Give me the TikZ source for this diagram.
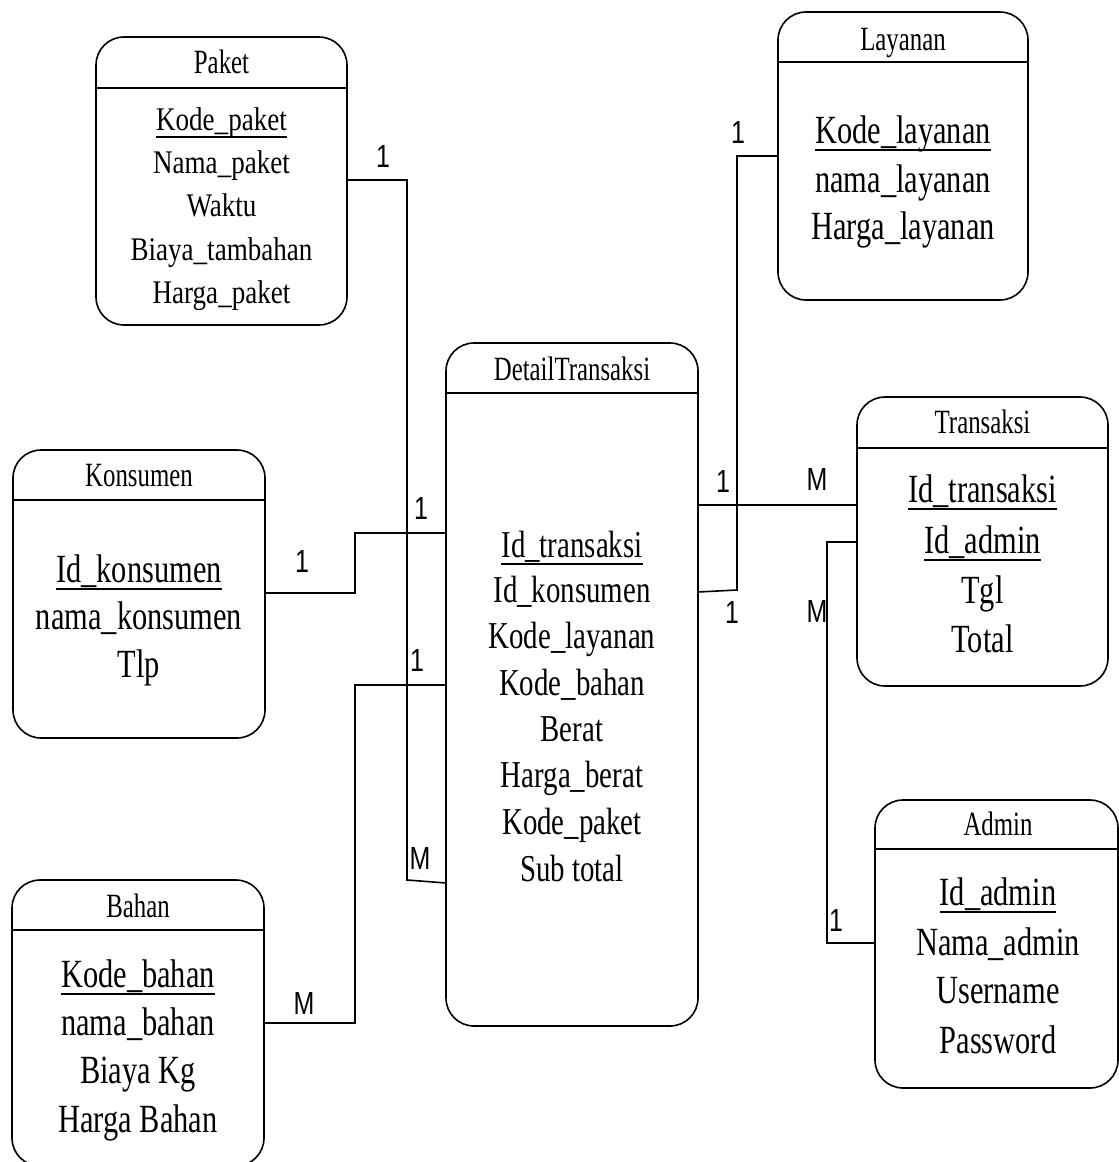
\documentclass[tikz,border=0pt]{standalone}
\usepackage{fontspec}
\setmainfont{Liberation Serif}
\newfontfamily\ttlfont{Liberation Serif}[FakeStretch=0.73]
\newfontfamily\atfont{Liberation Serif}[FakeStretch=0.76]
\newfontfamily\pkfont{Liberation Serif}[FakeStretch=0.82]
\newfontfamily\lbfont{Liberation Sans}[FakeStretch=0.78]
\begin{document}
\begin{tikzpicture}[x=1pt,y=-1pt,
  entity/.style={draw=black, line width=1.6pt, rounded corners=28pt, anchor=north west, inner sep=0pt, outer sep=0pt, fill=white},
  hdr/.style={line width=2.6pt},
  conn/.style={line width=1.6pt},
  ttl/.style={anchor=base, inner sep=0pt, font=\ttlfont\fontsize{34}{40}\selectfont},
  att/.style={anchor=base, inner sep=0pt, font=\atfont\fontsize{40}{48}\selectfont},
  patt/.style={anchor=base, inner sep=0pt, font=\pkfont\fontsize{33}{40}\selectfont},
  datt/.style={anchor=base, inner sep=0pt, font=\atfont\fontsize{38}{46}\selectfont},
  card/.style={inner sep=0pt, font=\lbfont\fontsize{32}{38}\selectfont},
  ulin/.style={line width=1.5pt}]
\useasboundingbox[fill=white] (0,0) rectangle (1119,1162);

% ---------- connector bends ----------
\coordinate (pk) at (407,880);
\coordinate (ks) at (355,533);
\coordinate (bh) at (355,685);
\coordinate (ly) at (737,590);
\coordinate (ad) at (827,943);

% ---------- entities ----------
\node[entity, minimum width=251pt, minimum height=288pt] (paket) at (96,37) {};
\node[entity, minimum width=250pt, minimum height=288pt] (layanan) at (778,12) {};
\node[entity, minimum width=252pt, minimum height=288pt] (konsumen) at (13,450) {};
\node[entity, minimum width=252pt, minimum height=683pt] (detail) at (446,343) {};
\node[entity, minimum width=251pt, minimum height=289pt] (transaksi) at (857,397) {};
\node[entity, minimum width=243pt, minimum height=288pt] (admin) at (875,800) {};
\node[entity, minimum width=252pt, minimum height=286pt] (bahan) at (12,880) {};

\draw[hdr] (paket.west |- 0,88) -- (paket.east |- 0,88);
\draw[hdr] (layanan.west |- 0,62) -- (layanan.east |- 0,62);
\draw[hdr] (konsumen.west |- 0,500) -- (konsumen.east |- 0,500);
\draw[hdr] (detail.west |- 0,393) -- (detail.east |- 0,393);
\draw[hdr] (transaksi.west |- 0,448) -- (transaksi.east |- 0,448);
\draw[hdr] (admin.west |- 0,849) -- (admin.east |- 0,849);
\draw[hdr] (bahan.west |- 0,930) -- (bahan.east |- 0,930);

\draw[conn] (paket.east |- 0,180) -| (pk) -- (detail.west |- 0,883);
\draw[conn] (konsumen.east |- 0,593) -| (ks) -- (detail.west |- 0,533);
\draw[conn] (bahan.east |- 0,1023) -| (bh) -- (detail.west |- 0,685);
\draw[conn] (layanan.west |- 0,156) -| (ly) -- (detail.east |- 0,592);
\draw[conn] (detail.east |- 0,505) -- (transaksi.west |- 0,505);
\draw[conn] (transaksi.west |- 0,542) -| (ad) -- (admin.west |- 0,943);

% ---------- Paket ----------
\node[ttl] (tpaket) at (221.5,73) {Paket};
\node[patt] (p1) at (221.5,130) {Kode\_paket};
\node[patt] (p2) at (221.5,173) {Nama\_paket};
\node[patt] (p3) at (221.5,216) {Waktu};
\node[patt] (p4) at (221.5,260) {Biaya\_tambahan};
\node[patt] (p5) at (221.5,303) {Harga\_paket};
\draw[ulin] ([yshift=-7pt]p1.base west) -- ([yshift=-7pt]p1.base east);

% ---------- Layanan ----------
\node[ttl] (tlayanan) at (903,50) {Layanan};
\node[att] (l1) at (903,143) {Kode\_layanan};
\node[att] (l2) at (903,192) {nama\_layanan};
\node[att] (l3) at (903,239) {Harga\_layanan};
\draw[ulin] ([yshift=-7pt]l1.base west) -- ([yshift=-7pt]l1.base east);

% ---------- Konsumen ----------
\node[ttl] (tkonsumen) at (139,486) {Konsumen};
\node[att] (k1) at (139,582) {Id\_konsumen};
\node[att] (k2) at (139,629) {nama\_konsumen};
\node[att] (k3) at (139,677) {Tlp};
\draw[ulin] ([yshift=-7pt]k1.base west) -- ([yshift=-7pt]k1.base east);

% ---------- DetailTransaksi ----------
\node[ttl] (tdetail) at (572,380) {DetailTransaksi};
\node[datt] (d1) at (572,557) {Id\_transaksi};
\node[datt] (d2) at (572,602) {Id\_konsumen};
\node[datt] (d3) at (572,648) {Kode\_layanan};
\node[datt] (d4) at (572,695) {Kode\_bahan};
\node[datt] (d5) at (572,741) {Berat};
\node[datt] (d6) at (572,787) {Harga\_berat};
\node[datt] (d7) at (572,834) {Kode\_paket};
\node[datt] (d8) at (572,881) {Sub total};
\draw[ulin] ([yshift=-7pt]d1.base west) -- ([yshift=-7pt]d1.base east);

% ---------- Transaksi ----------
\node[ttl] (ttransaksi) at (982.5,433) {Transaksi};
\node[att] (t1) at (982.5,502) {Id\_transaksi};
\node[att] (t2) at (982.5,553) {Id\_admin};
\node[att] (t3) at (982.5,603) {Tgl};
\node[att] (t4) at (982.5,652) {Total};
\draw[ulin] ([yshift=-7pt]t1.base west) -- ([yshift=-7pt]t1.base east);
\draw[ulin] ([yshift=-7pt]t2.base west) -- ([yshift=-7pt]t2.base east);

% ---------- Admin ----------
\node[ttl] (tadmin) at (998,835) {Admin};
\node[att] (a1) at (998,905) {Id\_admin};
\node[att] (a2) at (998,955) {Nama\_admin};
\node[att] (a3) at (998,1003) {Username};
\node[att] (a4) at (998,1053) {Password};
\draw[ulin] ([yshift=-7pt]a1.base west) -- ([yshift=-7pt]a1.base east);

% ---------- Bahan ----------
\node[ttl] (tbahan) at (138,917) {Bahan};
\node[att] (b1) at (138,987) {Kode\_bahan};
\node[att] (b2) at (138,1035) {nama\_bahan};
\node[att] (b3) at (138,1083) {Biaya Kg};
\node[att] (b4) at (138,1132) {Harga Bahan};
\draw[ulin] ([yshift=-7pt]b1.base west) -- ([yshift=-7pt]b1.base east);

% ---------- cardinalities ----------
\node[card] (c1) at (383,156) {1};
\node[card] (c2) at (420,858) {M};
\node[card] (c3) at (302,561) {1};
\node[card] (c4) at (421,508) {1};
\node[card] (c5) at (417,660) {1};
\node[card] (c6) at (304,1003) {M};
\node[card] (c7) at (738,132) {1};
\node[card] (c8) at (732,612) {1};
\node[card] (c9) at (723,481) {1};
\node[card] (c10) at (817,479) {M};
\node[card] (c11) at (817,611) {M};
\node[card] (c12) at (836,920) {1};
\end{tikzpicture}
\end{document}
